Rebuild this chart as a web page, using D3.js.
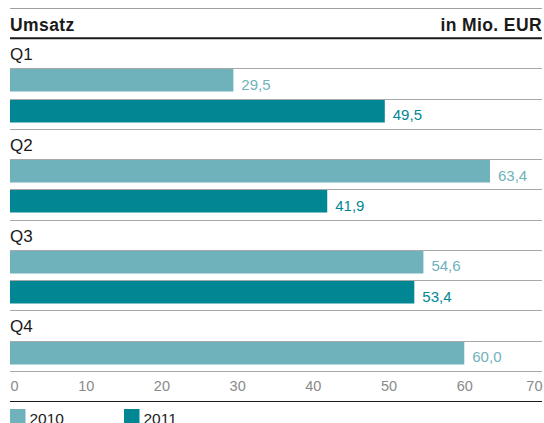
<!DOCTYPE html>
<html>
<head>
<meta charset="utf-8">
<script src="https://cdn.jsdelivr.net/npm/d3@7"></script>
<style>
  body { margin: 0; background: #fff; }
  svg { display: block; font-family: "Liberation Sans", Arial, Helvetica, sans-serif; }
</style>
</head>
<body>
<div id="chart"></div>
<script>
// data
const quarters = ["Q1", "Q2", "Q3", "Q4"];
const series = ["2010", "2011"];
const values2010 = [29.5, 63.4, 54.6, 60.0];
const values2011 = [49.5, 41.9, 53.4, null];
const xTicks = [0, 10, 20, 30, 40, 50, 60, 70];

const colors = {"2010": "#6fb2bc", "2011": "#008793"};

const width = 544, height = 423;
const left = 10, right = 542;

const svg = d3.select("#chart").append("svg")
    .attr("width", width)
    .attr("height", height);

// build the rows: one label row per quarter, then one row per bar
let rows = [];
quarters.forEach(function(q, i) {
    rows.push({id: q + "-label", type: "label", quarter: q});
    [values2010[i], values2011[i]].forEach(function(v, j) {
        if (v != null) rows.push({id: q + "-" + series[j], type: "bar", quarter: q, year: series[j], value: v});
    });
});

const y = d3.scaleBand()
    .domain(rows.map(d => d.id))
    .range([38, 371]);

const x = d3.scaleLinear()
    .domain([0, 70])
    .range([left, 540]);

const fmt = d3.formatLocale({decimal: ",", thousands: ".", grouping: [3], currency: ["", " €"]}).format(".1f");

// top line + header
svg.append("line")
    .attr("x1", left).attr("x2", right)
    .attr("y1", 8.5).attr("y2", 8.5)
    .attr("stroke", "#a0a0a0").attr("stroke-width", 1);

svg.append("text")
    .attr("x", left).attr("y", 30.5)
    .attr("font-size", 17.5).attr("font-weight", "bold")
    .attr("letter-spacing", 0.4)
    .attr("fill", "#1a1a1a")
    .text("Umsatz");

svg.append("text")
    .attr("x", right).attr("y", 30.5)
    .attr("text-anchor", "end")
    .attr("font-size", 17.5).attr("font-weight", "bold")
    .attr("letter-spacing", 0.4)
    .attr("fill", "#1a1a1a")
    .text("in Mio. EUR");

// row separator lines
svg.selectAll(".sep")
    .data(rows.slice(1).concat([{id: "end"}]))
    .enter()
    .append("line")
    .attr("class", "sep")
    .attr("x1", left).attr("x2", right)
    .attr("y1", d => d.id === "end" ? Math.round(y.range()[1]) + 0.5 : Math.round(y(d.id)) + 0.5)
    .attr("y2", d => d.id === "end" ? Math.round(y.range()[1]) + 0.5 : Math.round(y(d.id)) + 0.5)
    .attr("stroke", "#a8a8a8").attr("stroke-width", 1);

// dark rule under header
svg.append("line")
    .attr("x1", left).attr("x2", right)
    .attr("y1", 38.3).attr("y2", 38.3)
    .attr("stroke", "#1a1a1a").attr("stroke-width", 2);

// quarter labels
svg.selectAll(".qlabel")
    .data(rows.filter(d => d.type === "label"))
    .enter()
    .append("text")
    .attr("class", "qlabel")
    .attr("x", left)
    .attr("y", d => y(d.id) + 22)
    .attr("font-size", 17)
    .attr("fill", "#1a1a1a")
    .text(d => d.quarter);

const barRows = rows.filter(d => d.type === "bar");

svg.selectAll(".bar")
    .data(barRows)
    .enter()
    .append("rect")
    .attr("class", "bar")
    .attr("x", x(0))
    .attr("y", d => Math.round(y(d.id)) + 1)
    .attr("width", d => x(d.value) - x(0))
    .attr("height", 22.5)
    .attr("fill", d => colors[d.year]);

svg.selectAll(".val")
    .data(barRows)
    .enter()
    .append("text")
    .attr("class", "val")
    .attr("x", d => x(d.value) + 8)
    .attr("y", d => y(d.id) + 21.5)
    .attr("font-size", 15)
    .attr("fill", d => colors[d.year])
    .text(d => fmt(d.value));

// x axis labels
const axis = svg.append("g")
    .attr("class", "x-axis")
    .attr("transform", "translate(0,381)")
    .call(d3.axisBottom(x).tickValues(xTicks).tickSize(0).tickPadding(0).tickFormat(d3.format("d")));

axis.select(".domain").remove();
axis.selectAll("text")
    .attr("font-size", 14.5)
    .attr("font-family", "Liberation Sans, Arial, sans-serif")
    .attr("fill", "#8a8a8a")
    .attr("dy", "0.71em")
    .attr("text-anchor", (d, i) => i === 0 ? "start" : (i === xTicks.length - 1 ? "end" : "middle"))
    .attr("x", (d, i) => i === xTicks.length - 1 ? 2 : 0);

// bottom rule
svg.append("line")
    .attr("x1", left).attr("x2", right)
    .attr("y1", 401.5).attr("y2", 401.5)
    .attr("stroke", "#1a1a1a").attr("stroke-width", 1.2);

// legend (cut off at the bottom edge, as in the reference)
const legend = svg.selectAll(".legend")
    .data(series)
    .enter()
    .append("g")
    .attr("class", "legend")
    .attr("transform", (d, i) => `translate(${left + i * 114},409)`);

legend.append("rect")
    .attr("width", 15.5).attr("height", 15.5)
    .attr("fill", d => colors[d]);

legend.append("text")
    .attr("x", 19.5).attr("y", 15)
    .attr("font-size", 15.5)
    .attr("fill", "#1a1a1a")
    .text(d => d);
</script>
</body>
</html>
